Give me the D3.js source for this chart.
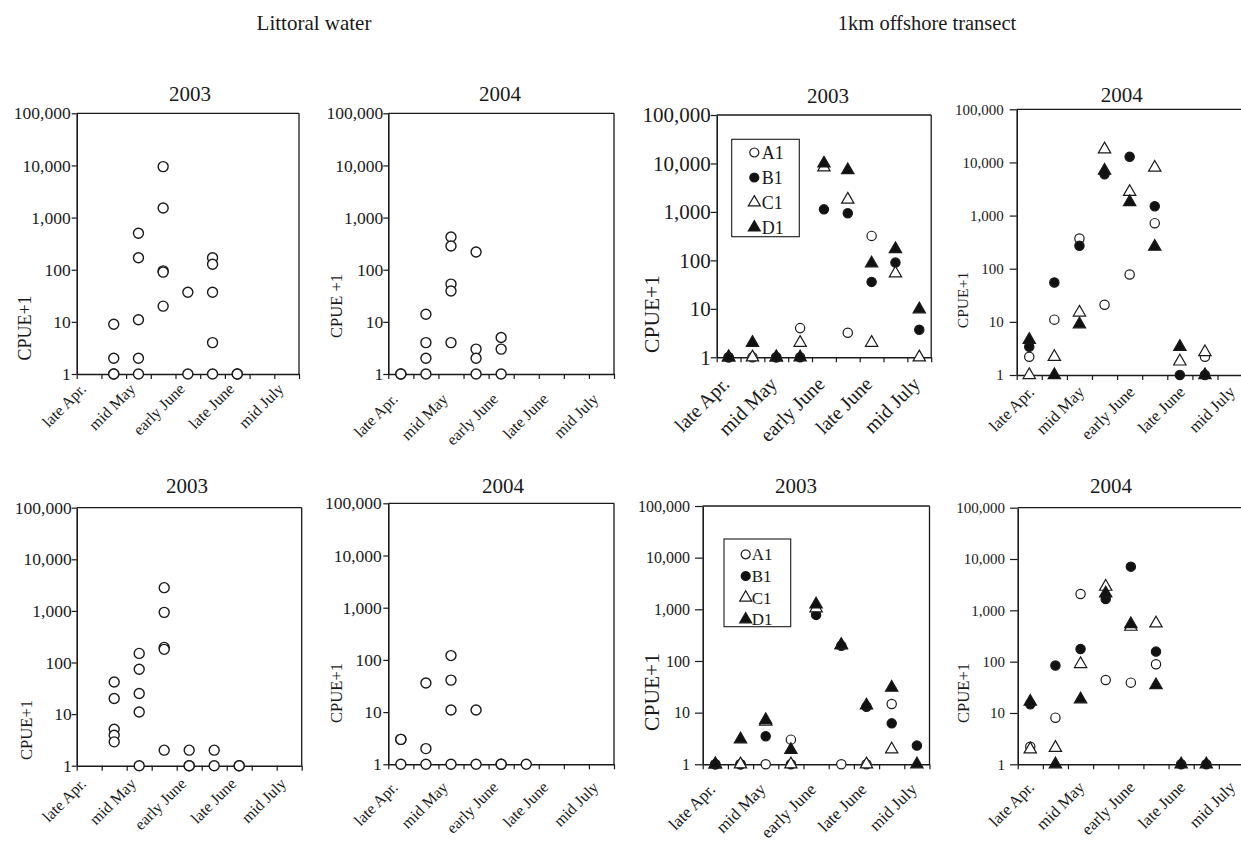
<!DOCTYPE html>
<html><head><meta charset="utf-8">
<script src="https://cdn.jsdelivr.net/npm/d3@7"></script>
<style>
body{margin:0;background:#fff}
svg{display:block}
text{font-family:"Liberation Serif","Times New Roman",serif;fill:#1a1a1a}
</style>
</head><body>
<svg id="c" width="1241" height="842"></svg>
<script>
// ---------- data ----------
const categories = ["late Apr.","early May","mid May","late May","early June","mid June","late June","early July","mid July"];
const shownLabels = ["late Apr.","mid May","early June","late June","mid July"];
const yTicks = [1,10,100,1000,10000,100000];
const seriesNames = ["A1","B1","C1","D1"];
const headers = ["Littoral water","1km offshore transect"];

// Littoral water (CPUE+1 per site, grouped by 10-day period)
const litTop2003 = [[],[9,2,1,1],[500,170,11,2,1],[9500,1530,95,90,20],[37,1],[170,127,37,4,1],[1,1],[],[]];
const litTop2004 = [[1,1],[14,4,2,1],[425,285,53,39,4],[219,3,2,1],[5,3,1],[],[],[],[]];
const litBot2003 = [[],[42,20,5.1,3.9,2.9],[150,74,25,11,1],[2820,937,196,180,2],[2,1,1],[2,1],[1,1],[],[]];
const litBot2004 = [[3,3,1],[36,2,1],[121,41,11,1],[11,1],[1,1],[1],[],[],[]];

// 1km offshore transect, top row 2003
const offTop2003A1 = [1,1,1,4,null,3.2,320,null,null];
const offTop2003B1 = [1,null,1,1,1130,940,36,90,3.7];
const offTop2003C1 = [1,1,1,2,8300,1800,2,54,1];
const offTop2003D1 = [1,2,1,1,10000,7300,87,172,9.8];
// top row 2004
const offTop2004A1 = [2.2,11,370,21,78,720,null,2.2,null];
const offTop2004B1 = [3.4,55,270,6000,12800,1500,1,1,null];
const offTop2004C1 = [1,2.2,15,17700,2800,8000,1.8,2.7,null];
const offTop2004D1 = [4.6,1,9,7000,1800,260,3.4,1,null];
// bottom row 2003
const offBot2003A1 = [1,1,1,3,null,1,1,14.7,null];
const offBot2003B1 = [1,1,3.5,1,780,197,13,6.2,2.3];
const offBot2003C1 = [1,1,6.7,1,1050,200,1,1.95,null];
const offBot2003D1 = [1,3.05,7.2,1.9,1250,205,13.8,30.5,1];
// bottom row 2004
const offBot2004A1 = [2.2,8.1,2080,44,39,89,null,null,null];
const offBot2004B1 = [14.8,84,177,1660,7100,157,1,1,null];
const offBot2004C1 = [1.96,2.1,90,2890,480,558,null,null,null];
const offBot2004D1 = [16.6,1,18.5,2140,540,35,1,1,null];

// ---------- layout ----------
const FONT = '"Liberation Serif","Times New Roman",serif';
const svg = d3.select("#c");
svg.append("rect").attr("width",1241).attr("height",842).attr("fill","#fff");

svg.append("text").attr("x",314).attr("y",30).attr("text-anchor","middle").style("font-size","21px").text(headers[0]);
svg.append("text").attr("x",927).attr("y",30).attr("text-anchor","middle").style("font-size","20.5px").text(headers[1]);

const symType = {A1:d3.symbolCircle,B1:d3.symbolCircle,C1:d3.symbolTriangle,D1:d3.symbolTriangle};
const symFill = {A1:"#fff",B1:"#111",C1:"#fff",D1:"#111"};

const panels = [
 {year:"2003",kind:"lit",data:litTop2003,L:76.7,R:299,T:113.3,B:374,tf:17.5,tp:1,ts:5,lf:16,ldx:-2,ldy:16,tx:190,ty:101,yl:"CPUE+1",ylx:25,yly:328,ylf:18},
 {year:"2004",kind:"lit",data:litTop2004,L:388.3,R:614,T:113.3,B:374,tf:17.5,tp:0,ts:5,lf:16,ldx:-2,ldy:26,tx:500,ty:101,yl:"CPUE +1",ylx:336,yly:306,ylf:16.5},
 {year:"2003",kind:"off",data:[offTop2003A1,offTop2003B1,offTop2003C1,offTop2003D1],L:716.7,R:931.2,T:115,B:357.3,tf:21,tp:0,ts:6,lf:20,ldx:2,ldy:28,tx:828,ty:102.7,yl:"CPUE+1",ylx:651,yly:314,ylf:21.5,
  legend:{x:731.7,y:139.3,w:67.6,h:97.4,y0:152.5,dy:25,mx:754.3,tx:761.7,f:18}},
 {year:"2004",kind:"off",data:[offTop2004A1,offTop2004B1,offTop2004C1,offTop2004D1],L:1016.7,R:1242.6,T:109.3,B:375,tf:15,tp:6,ts:7,lf:16.5,ldx:6,ldy:18,tx:1121.7,ty:101.7,yl:"CPUE+1",ylx:963,yly:300,ylf:15.6},
 {year:"2003",kind:"lit",data:litBot2003,L:76.7,R:301.7,T:507.7,B:765.7,tf:17.5,tp:0,ts:5,lf:16,ldx:-2,ldy:19,tx:187,ty:493.3,yl:"CPUE+1",ylx:26,yly:730,ylf:16.6},
 {year:"2004",kind:"lit",data:litBot2004,L:388.3,R:614,T:503.3,B:764.3,tf:17.5,tp:1.5,ts:5,lf:16,ldx:-2,ldy:24,tx:503,ty:493.3,yl:"CPUE+1",ylx:336,yly:693,ylf:16.6},
 {year:"2003",kind:"off",data:[offBot2003A1,offBot2003B1,offBot2003C1,offBot2003D1],L:702.7,R:929.5,T:506,B:764.3,tf:16,tp:5,ts:7.7,lf:17,ldx:1,ldy:26,tx:796,ty:493,yl:"CPUE+1",ylx:651,yly:692,ylf:21.5,
  legend:{x:724,y:539,w:66.7,h:87.7,y0:554.3,dy:21.7,mx:745.7,tx:751.7,f:17}},
 {year:"2004",kind:"off",data:[offBot2004A1,offBot2004B1,offBot2004C1,offBot2004D1],L:1017.7,R:1244,T:507.7,B:764.3,tf:15,tp:5,ts:7.7,lf:16.5,ldx:5,ldy:24,tx:1111,ty:493,yl:"CPUE+1",ylx:963,yly:693,ylf:16.6}
];

const stroke = "#1a1a1a";

panels.forEach(p => {
  const g = svg.append("g");
  const x = d3.scaleBand().domain(categories).range([p.L,p.R]).padding(0);
  const xb = d3.scaleLinear().domain([0,categories.length]).range([p.L,p.R]);
  const y = d3.scaleLog().domain([1,100000]).range([p.B,p.T]);

  // plot-area border (top & right)
  g.append("line").attr("x1",p.L).attr("x2",p.R).attr("y1",p.T).attr("y2",p.T).attr("stroke",stroke).attr("stroke-width",1.3);
  g.append("line").attr("x1",p.R).attr("x2",p.R).attr("y1",p.T).attr("y2",p.B).attr("stroke",stroke).attr("stroke-width",1.3);

  // x axis: boundary ticks
  const xa = g.append("g").attr("transform",`translate(0,${p.B})`)
    .call(d3.axisBottom(xb).tickValues(d3.range(categories.length+1)).tickFormat("").tickSize(5).tickSizeOuter(0));
  xa.select(".domain").attr("stroke",stroke).attr("stroke-width",1.6);
  xa.selectAll(".tick line").attr("stroke",stroke).attr("stroke-width",1.2);

  // x labels
  const xl = g.append("g").attr("transform",`translate(0,${p.B})`)
    .call(d3.axisBottom(x).tickSize(0).tickFormat(d => shownLabels.includes(d) ? d : ""));
  xl.attr("font-family",FONT).attr("font-size",p.lf);
  xl.select(".domain").remove();
  xl.selectAll("text").attr("x",0).attr("y",0).attr("dy",0)
    .attr("transform",`translate(${p.ldx},${p.ldy}) rotate(-45)`)
    .style("text-anchor","end").style("font-size",p.lf+"px")
    .style("font-family",FONT).attr("fill","#1a1a1a");

  // y axis
  const ya = g.append("g").attr("transform",`translate(${p.L},0)`)
    .call(d3.axisLeft(y).tickValues(yTicks).tickFormat(d3.format(",")).tickSize(p.ts).tickPadding(p.tp).tickSizeOuter(0));
  ya.attr("font-family",FONT).attr("font-size",p.tf);
  ya.select(".domain").attr("stroke",stroke).attr("stroke-width",1.6);
  ya.selectAll(".tick line").attr("stroke",stroke).attr("stroke-width",1.2);
  ya.selectAll("text").style("font-size",p.tf+"px").style("font-family",FONT).attr("fill","#1a1a1a");

  // title
  g.append("text").attr("x",p.tx).attr("y",p.ty).attr("text-anchor","middle").style("font-size","21px").text(p.year);
  // y label
  g.append("text").attr("transform",`translate(${p.ylx},${p.yly}) rotate(-90)`).attr("dy","0.35em")
    .attr("text-anchor","middle").style("font-size",p.ylf+"px").text(p.yl);

  // marks
  const cx = c => x(c) + x.bandwidth()/2;
  if (p.kind === "lit") {
    const pts = [];
    p.data.forEach((vals,i) => vals.forEach(v => pts.push({c:categories[i],v})));
    g.selectAll("circle.pt").data(pts).join("circle").attr("class","pt")
      .attr("cx",d=>cx(d.c)).attr("cy",d=>y(d.v)).attr("r",5)
      .attr("fill","#fff").attr("stroke",stroke).attr("stroke-width",1.4);
  } else {
    seriesNames.forEach((s,si) => {
      const pts = p.data[si].map((v,i)=>({c:categories[i],v})).filter(d=>d.v!=null);
      const sym = d3.symbol().type(symType[s]).size(symType[s]===d3.symbolCircle?68:66);
      g.selectAll("path.s"+s).data(pts).join("path").attr("class","s"+s)
        .attr("transform",d=>`translate(${cx(d.c)},${y(d.v)})`)
        .attr("d",sym).attr("fill",symFill[s]).attr("stroke",stroke).attr("stroke-width",1.2);
    });
    if (p.legend) {
      const L = p.legend;
      g.append("rect").attr("x",L.x).attr("y",L.y).attr("width",L.w).attr("height",L.h)
        .attr("fill","#fff").attr("stroke",stroke).attr("stroke-width",1.1);
      seriesNames.forEach((s,i) => {
        const yy = L.y0 + i*L.dy;
        g.append("path").attr("transform",`translate(${L.mx},${yy})`)
          .attr("d",d3.symbol().type(symType[s]).size(symType[s]===d3.symbolCircle?64:62))
          .attr("fill",symFill[s]).attr("stroke",stroke).attr("stroke-width",1.2);
        g.append("text").attr("x",L.tx).attr("y",yy).attr("dy","0.35em").style("font-size",L.f+"px").text(s);
      });
    }
  }
});
</script>
</body></html>
